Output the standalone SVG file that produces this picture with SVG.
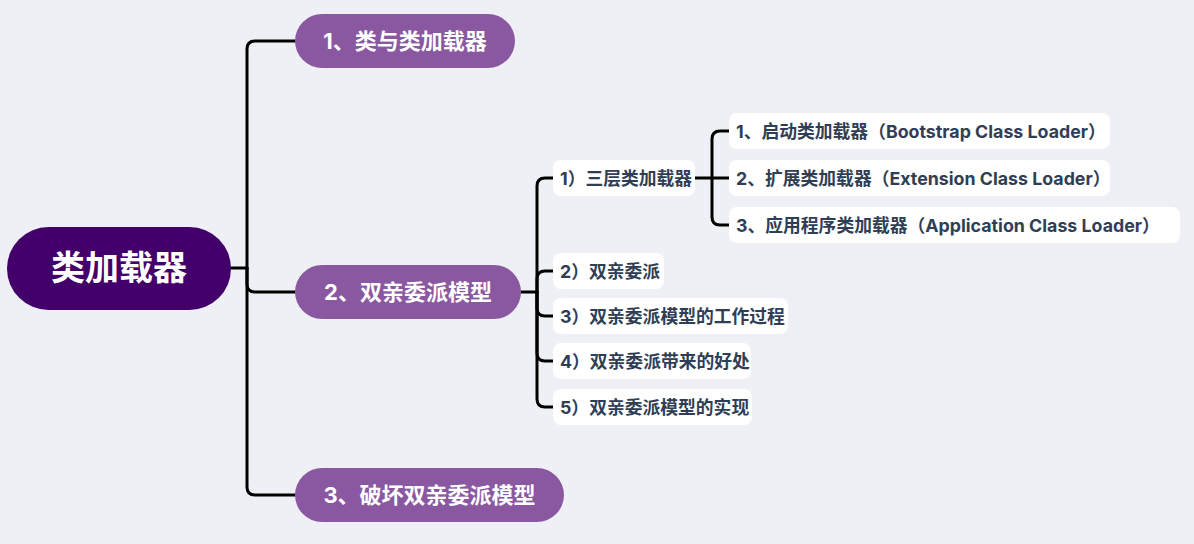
<svg xmlns="http://www.w3.org/2000/svg" width="1194" height="544" viewBox="0 0 1194 544">
<style>
.root{fill:#43006a}
.br{fill:#8a58a0}
.lf{fill:#ffffff}
.rt{font-family:"Inter","Noto Sans CJK SC",sans-serif;font-weight:bold;fill:#fff;font-size:34px}
.bt{font-family:"Inter","Noto Sans CJK SC",sans-serif;font-weight:bold;fill:#fff;font-size:22px}
.lt{font-family:"Inter","Noto Sans CJK SC",sans-serif;font-weight:bold;fill:#2f3e55;font-size:17.8px}
.c{fill:none;stroke:#000;stroke-width:3;stroke-linecap:round;stroke-linejoin:round}
</style>
<rect width="1194" height="544" fill="#eff0f5"/>
<g id="connectors">
<path class="c" d="M231,268 H247"/>
<path class="c" d="M247,268 V49 Q247,41 255,41 H295"/>
<path class="c" d="M247,268 V284 Q247,292 255,292 H295"/>
<path class="c" d="M247,268 V487 Q247,495 255,495 H295"/>
<path class="c" d="M521,292 H537"/>
<path class="c" d="M537,292 V186 Q537,178 545,178 H553"/>
<path class="c" d="M537,292 V279 Q537,271 545,271 H553"/>
<path class="c" d="M537,292 V308 Q537,316 545,316 H553"/>
<path class="c" d="M537,292 V353 Q537,361 545,361 H553"/>
<path class="c" d="M537,292 V399 Q537,407 545,407 H553"/>
<path class="c" d="M695,178 H712"/>
<path class="c" d="M712,178 V139 Q712,131 720,131 H729"/>
<path class="c" d="M712,178 H729"/>
<path class="c" d="M712,178 V217 Q712,225 720,225 H729"/>
</g>
<g id="root"><rect class="root" x="7" y="227" width="224" height="83" rx="41.5"/><text class="rt" x="119" y="280" text-anchor="middle">类加载器</text></g>
<g id="b1"><rect class="br" x="295" y="14" width="220" height="54" rx="27"/><text class="bt" x="405" y="49" text-anchor="middle">1、类与类加载器</text></g>
<g id="b2"><rect class="br" x="295" y="265" width="226" height="54" rx="27"/><text class="bt" x="408" y="300" text-anchor="middle">2、双亲委派模型</text></g>
<g id="b3"><rect class="br" x="295" y="468" width="269" height="54" rx="27"/><text class="bt" x="429.5" y="503" text-anchor="middle">3、破坏双亲委派模型</text></g>
<g id="c1"><rect class="lf" x="553" y="160" width="142" height="36" rx="8"/><text class="lt" x="560" y="184.5">1）三层类加载器</text></g>
<g id="c2"><rect class="lf" x="553" y="253" width="111" height="36" rx="8"/><text class="lt" x="560" y="277.5">2）双亲委派</text></g>
<g id="c3"><rect class="lf" x="553" y="298" width="235" height="36" rx="8"/><text class="lt" x="560" y="322.5">3）双亲委派模型的工作过程</text></g>
<g id="c4"><rect class="lf" x="553" y="343" width="198" height="36" rx="8"/><text class="lt" x="560" y="367.5">4）双亲委派带来的好处</text></g>
<g id="c5"><rect class="lf" x="553" y="389" width="199" height="36" rx="8"/><text class="lt" x="560" y="413.5">5）双亲委派模型的实现</text></g>
<g id="g1"><rect class="lf" x="729" y="113" width="381" height="36" rx="8"/><text class="lt" x="736" y="137.5">1、启动类加载器（Bootstrap Class Loader）</text></g>
<g id="g2"><rect class="lf" x="729" y="160" width="381" height="36" rx="8"/><text class="lt" x="736" y="184.5">2、扩展类加载器（Extension Class Loader）</text></g>
<g id="g3"><rect class="lf" x="729" y="207" width="451" height="36" rx="8"/><text class="lt" x="736" y="231.5">3、应用程序类加载器（Application Class Loader）</text></g>
</svg>
